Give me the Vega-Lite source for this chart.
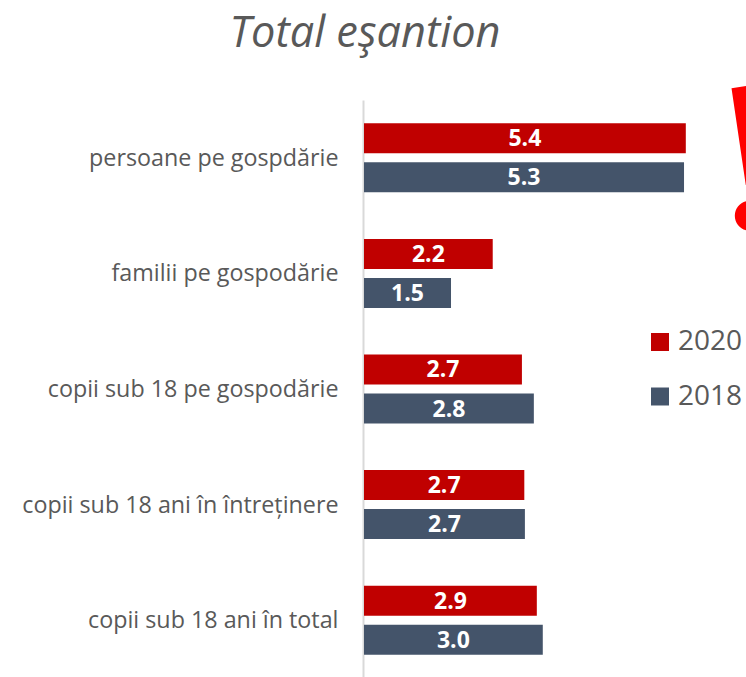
{"$schema":"https://vega.github.io/schema/vega-lite/v6.json","autosize":{"type":"none"},"width":382,"height":578,"padding":{"left":364,"top":100,"right":0,"bottom":0},"background":"white","config":{"view":{"stroke":null},"font":"Open Sans"},"title":{"text":"Total eşantion","font":"Open Sans","fontSize":43.3,"fontStyle":"italic","fontWeight":"normal","color":"#595959","anchor":"middle","frame":"group","dx":-190,"offset":27},"data":{"values":[{"c":"persoane pe gospdărie","s":"2020","v":5.4,"l":"5.4"},{"c":"persoane pe gospdărie","s":"2018","v":5.37,"l":"5.3"},{"c":"familii pe gospodărie","s":"2020","v":2.16,"l":"2.2"},{"c":"familii pe gospodărie","s":"2018","v":1.46,"l":"1.5"},{"c":"copii sub 18 pe gospodărie","s":"2020","v":2.65,"l":"2.7"},{"c":"copii sub 18 pe gospodărie","s":"2018","v":2.85,"l":"2.8"},{"c":"copii sub 18 ani în întreținere","s":"2020","v":2.69,"l":"2.7"},{"c":"copii sub 18 ani în întreținere","s":"2018","v":2.7,"l":"2.7"},{"c":"copii sub 18 ani în total","s":"2020","v":2.9,"l":"2.9"},{"c":"copii sub 18 ani în total","s":"2018","v":3.0,"l":"3.0"}]},"encoding":{"y":{"field":"c","type":"nominal","sort":null,"scale":{"paddingInner":0,"paddingOuter":0},"axis":{"title":null,"domain":true,"domainColor":"#d9d9d9","domainWidth":2,"offset":1,"ticks":false,"grid":false,"labelFont":"Open Sans","labelFontSize":23.3,"labelColor":"#595959","labelPadding":25,"labelOffset":1,"labelLimit":400}},"yOffset":{"field":"s","type":"nominal","sort":["2020","2018"],"scale":{"paddingInner":0.23,"paddingOuter":0.597}}},"layer":[{"mark":{"type":"bar","clip":false},"encoding":{"x":{"field":"v","type":"quantitative","scale":{"domain":[0,6.41],"nice":false},"axis":null},"color":{"field":"s","type":"nominal","scale":{"domain":["2020","2018"],"range":["#c00000","#44546a"]},"legend":{"title":null,"orient":"none","legendX":282,"legendY":228,"symbolType":"square","symbolSize":324,"symbolStrokeWidth":0,"labelFont":"Open Sans","labelFontSize":28,"labelColor":"#595959","labelOffset":4,"rowPadding":26.5,"padding":0}}}},{"transform":[{"calculate":"datum.v/2","as":"m"}],"mark":{"type":"text","color":"white","fontWeight":"bold","fontSize":23,"font":"Open Sans","align":"center","baseline":"middle","dy":1},"encoding":{"x":{"field":"m","type":"quantitative"},"text":{"field":"l"}}},{"data":{"values":[{}]},"mark":{"type":"point","filled":true,"opacity":1,"color":"#ff0000","clip":false,"shape":"M-0.217,-0.93 L0.227,-1 L0.107,0.36 L-0.027,0.36 Z M0.027,0.57 A0.2,0.2 0 1 1 0.027,0.97 A0.2,0.2 0 1 1 0.027,0.57 Z","size":22500},"encoding":{"x":{"datum":6.44,"type":"quantitative"},"y":{"datum":"persoane pe gospdărie"},"yOffset":{"value":58}}}]}
